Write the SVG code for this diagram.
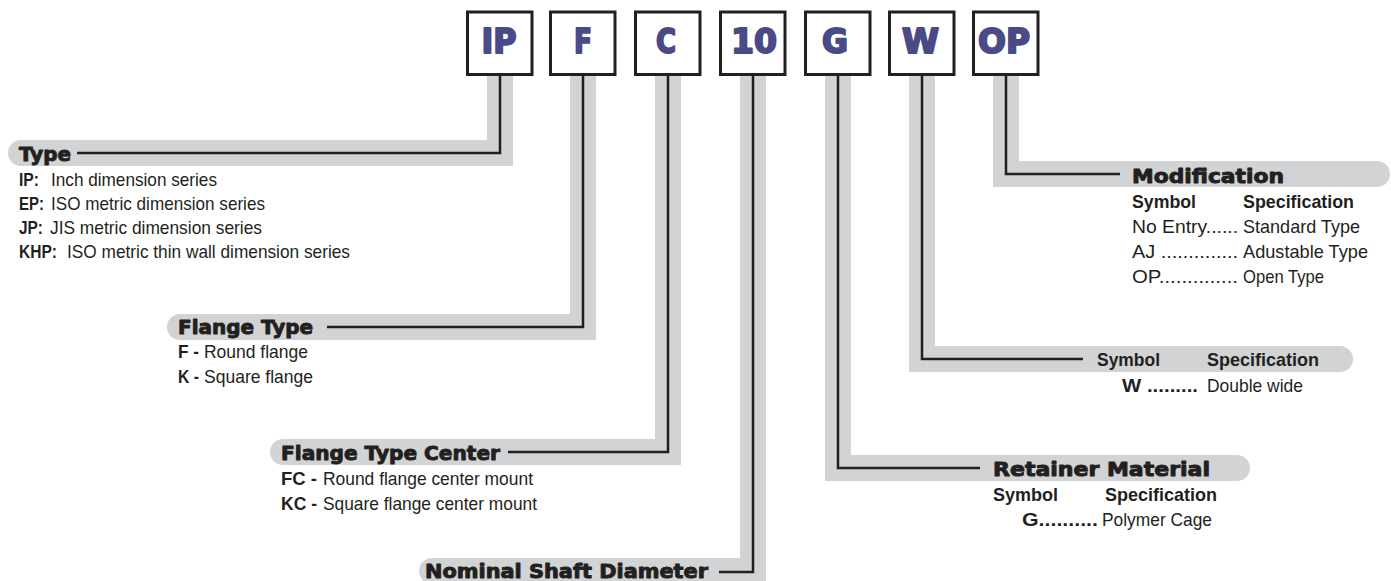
<svg xmlns="http://www.w3.org/2000/svg" width="1391" height="581" viewBox="0 0 1391 581">
<style>
.box{fill:#fff;stroke:#231f20;stroke-width:3}
.bl{font-family:"DejaVu Sans",sans-serif;font-weight:bold;font-size:33px;fill:#4a4a87;stroke:#4a4a87;stroke-width:2;stroke-linejoin:round;text-anchor:middle}
.band{fill:none;stroke:#d1d3d4;stroke-width:26;stroke-linejoin:miter}
.cap{fill:#d1d3d4}
.ln{fill:none;stroke:#231f20;stroke-width:2.5}
.hd{font-family:"DejaVu Sans",sans-serif;font-weight:bold;font-size:19px;fill:#231f20;stroke:#231f20;stroke-width:0.9;stroke-linejoin:round}
.b{font-family:"Liberation Sans",Arial,sans-serif;font-weight:bold;font-size:18.5px;fill:#231f20}
.r{font-family:"Liberation Sans",Arial,sans-serif;font-size:18.5px;fill:#231f20}
</style>
<g id="connectors">
<path class="band" d="M500,76 V153 H21"/><circle class="cap" cx="21" cy="153" r="13"/>
<path class="band" d="M583,76 V327 H180"/><circle class="cap" cx="180" cy="327" r="13"/>
<path class="band" d="M668,76 V452 H283"/><circle class="cap" cx="283" cy="452" r="13"/>
<path class="band" d="M753,76 V571 H432"/><circle class="cap" cx="432" cy="571" r="13"/>
<path class="band" d="M838,76 V468 H1237"/><circle class="cap" cx="1237" cy="468" r="13"/>
<path class="band" d="M922,76 V359 H1340"/><circle class="cap" cx="1340" cy="359" r="13"/>
<path class="band" d="M1006,76 V174 H1377"/><circle class="cap" cx="1377" cy="174" r="13"/>
<path class="ln" d="M500,76 V153 H77"/>
<path class="ln" d="M583,76 V327 H327"/>
<path class="ln" d="M668,76 V452 H508"/>
<path class="ln" d="M753,76 V572 H719"/>
<path class="ln" d="M838,76 V468 H980"/>
<path class="ln" d="M922,76 V359 H1083"/>
<path class="ln" d="M1006,76 V174 H1120"/>
</g>
<g id="box-IP"><rect class="box" x="467.5" y="12" width="64.5" height="62.5"/><text class="bl" x="499" y="53" textLength="35" lengthAdjust="spacingAndGlyphs">IP</text></g>
<g id="box-F"><rect class="box" x="550.5" y="12" width="64.5" height="62.5"/><text class="bl" x="583" y="53" textLength="18" lengthAdjust="spacingAndGlyphs">F</text></g>
<g id="box-C"><rect class="box" x="635.5" y="12" width="64.5" height="62.5"/><text class="bl" x="666" y="53" textLength="20" lengthAdjust="spacingAndGlyphs">C</text></g>
<g id="box-10"><rect class="box" x="720.5" y="12" width="64.5" height="62.5"/><text class="bl" x="754" y="53" textLength="46" lengthAdjust="spacingAndGlyphs">10</text></g>
<g id="box-G"><rect class="box" x="805.5" y="12" width="64.5" height="62.5"/><text class="bl" x="835" y="53" textLength="26" lengthAdjust="spacingAndGlyphs">G</text></g>
<g id="box-W"><rect class="box" x="889.5" y="12" width="64.5" height="62.5"/><text class="bl" x="920.5" y="53" textLength="37" lengthAdjust="spacingAndGlyphs">W</text></g>
<g id="box-OP"><rect class="box" x="973.5" y="12" width="64.5" height="62.5"/><text class="bl" x="1004" y="53" textLength="52" lengthAdjust="spacingAndGlyphs">OP</text></g>

<g id="type">
<text class="hd" x="19" y="161" textLength="52" lengthAdjust="spacingAndGlyphs">Type</text>
<text class="b" x="19" y="186" textLength="20" lengthAdjust="spacingAndGlyphs">IP:</text>
<text class="r" x="51" y="186" textLength="166" lengthAdjust="spacingAndGlyphs">Inch dimension series</text>
<text class="b" x="19" y="210" textLength="25" lengthAdjust="spacingAndGlyphs">EP:</text>
<text class="r" x="51" y="210" textLength="214" lengthAdjust="spacingAndGlyphs">ISO metric dimension series</text>
<text class="b" x="19" y="234" textLength="24" lengthAdjust="spacingAndGlyphs">JP:</text>
<text class="r" x="50" y="234" textLength="212" lengthAdjust="spacingAndGlyphs">JIS metric dimension series</text>
<text class="b" x="19" y="258" textLength="38" lengthAdjust="spacingAndGlyphs">KHP:</text>
<text class="r" x="67" y="258" textLength="283" lengthAdjust="spacingAndGlyphs">ISO metric thin wall dimension series</text>
</g>

<g id="flange-type">
<text class="hd" x="178" y="334" textLength="135" lengthAdjust="spacingAndGlyphs">Flange Type</text>
<text class="b" x="178" y="358" textLength="21" lengthAdjust="spacingAndGlyphs">F -</text>
<text class="r" x="204" y="358" textLength="104" lengthAdjust="spacingAndGlyphs">Round flange</text>
<text class="b" x="178" y="383" textLength="21" lengthAdjust="spacingAndGlyphs">K -</text>
<text class="r" x="204" y="383" textLength="109" lengthAdjust="spacingAndGlyphs">Square flange</text>
</g>

<g id="flange-type-center">
<text class="hd" x="281" y="460" textLength="219" lengthAdjust="spacingAndGlyphs">Flange Type Center</text>
<text class="b" x="281" y="485" textLength="36" lengthAdjust="spacingAndGlyphs">FC -</text>
<text class="r" x="323" y="485" textLength="210" lengthAdjust="spacingAndGlyphs">Round flange center mount</text>
<text class="b" x="281" y="510" textLength="36" lengthAdjust="spacingAndGlyphs">KC -</text>
<text class="r" x="323" y="510" textLength="214" lengthAdjust="spacingAndGlyphs">Square flange center mount</text>
</g>

<g id="nominal-shaft-diameter">
<text class="hd" x="425" y="578" textLength="283" lengthAdjust="spacingAndGlyphs">Nominal Shaft Diameter</text>
</g>

<g id="modification">
<text class="hd" x="1132" y="183" textLength="152" lengthAdjust="spacingAndGlyphs">Modification</text>
<text class="b" x="1132" y="208" textLength="64" lengthAdjust="spacingAndGlyphs">Symbol</text>
<text class="b" x="1243" y="208" textLength="111" lengthAdjust="spacingAndGlyphs">Specification</text>
<text class="r" x="1132" y="233" textLength="106" lengthAdjust="spacingAndGlyphs">No Entry......</text>
<text class="r" x="1243" y="233" textLength="117" lengthAdjust="spacingAndGlyphs">Standard Type</text>
<text class="r" x="1132" y="258" textLength="106" lengthAdjust="spacingAndGlyphs">AJ ..............</text>
<text class="r" x="1243" y="258" textLength="125" lengthAdjust="spacingAndGlyphs">Adustable Type</text>
<text class="r" x="1132" y="283" textLength="106" lengthAdjust="spacingAndGlyphs">OP..............</text>
<text class="r" x="1243" y="283" textLength="81" lengthAdjust="spacingAndGlyphs">Open Type</text>
</g>

<g id="width">
<text class="b" x="1097" y="366" textLength="63" lengthAdjust="spacingAndGlyphs">Symbol</text>
<text class="b" x="1207" y="366" textLength="112" lengthAdjust="spacingAndGlyphs">Specification</text>
<text class="b" x="1122" y="392" textLength="76" lengthAdjust="spacingAndGlyphs">W .........</text>
<text class="r" x="1207" y="392" textLength="96" lengthAdjust="spacingAndGlyphs">Double wide</text>
</g>

<g id="retainer-material">
<text class="hd" x="993" y="476" textLength="217" lengthAdjust="spacingAndGlyphs">Retainer Material</text>
<text class="b" x="993" y="501" textLength="65" lengthAdjust="spacingAndGlyphs">Symbol</text>
<text class="b" x="1105" y="501" textLength="112" lengthAdjust="spacingAndGlyphs">Specification</text>
<text class="b" x="1022" y="526" textLength="76" lengthAdjust="spacingAndGlyphs">G..........</text>
<text class="r" x="1102" y="526" textLength="110" lengthAdjust="spacingAndGlyphs">Polymer Cage</text>
</g>
</svg>
